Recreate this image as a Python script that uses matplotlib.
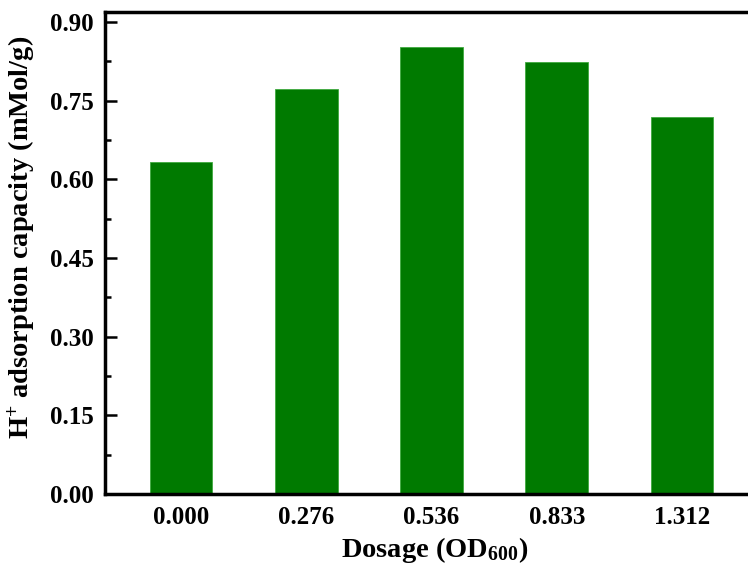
import numpy as np
from matplotlib import pyplot as plt

plt.rcParams['font.family'] = 'Liberation Serif'
plt.rcParams['font.weight'] = 'bold'
plt.rcParams['mathtext.default'] = 'regular'

dosage_labels = ['0.000', '0.276', '0.536', '0.833', '1.312']
capacity = [0.633, 0.772, 0.852, 0.824, 0.719]
yticks = [0.00, 0.15, 0.30, 0.45, 0.60, 0.75, 0.90]

fig = plt.figure(figsize=(7.48, 5.65), dpi=100)
ax = fig.add_axes([105/748, 71/565, 1 - 105/748, (494 - 12)/565])

xpos = np.arange(len(dosage_labels))
ax.bar(xpos, capacity, width=0.5, color='#007a00', edgecolor='#3faa3f', linewidth=0.6)

ax.set_xlim(-0.607, 4.527)
ax.set_ylim(0, 0.919)
ax.set_xticks(xpos)
ax.set_xticklabels(dosage_labels, fontsize=18, fontweight='bold')
ax.set_yticks(yticks)
ax.set_yticklabels(['%.2f' % v for v in yticks], fontsize=18, fontweight='bold')
ax.set_yticks(np.arange(0.075, 0.9, 0.15), minor=True)

ax.tick_params(axis='x', length=0, pad=9)
ax.tick_params(axis='y', which='major', direction='in', length=8.5, width=1.8, pad=8)
ax.tick_params(axis='y', which='minor', direction='in', length=4.5, width=1.8)
ax.spines['right'].set_visible(False)
for s in ['left', 'bottom', 'top']:
    ax.spines[s].set_linewidth(2.5)

ax.set_xlabel('Dosage (OD$_{600}$)', fontsize=20.5, fontweight='bold')
ax.set_ylabel('H$^{+}$ adsorption capacity (mMol/g)', fontsize=20.5, fontweight='bold')
ax.xaxis.set_label_coords(0.513, -0.085)
ax.yaxis.set_label_coords(-0.106, 0.533)

fig.savefig('out.png', dpi=100)
